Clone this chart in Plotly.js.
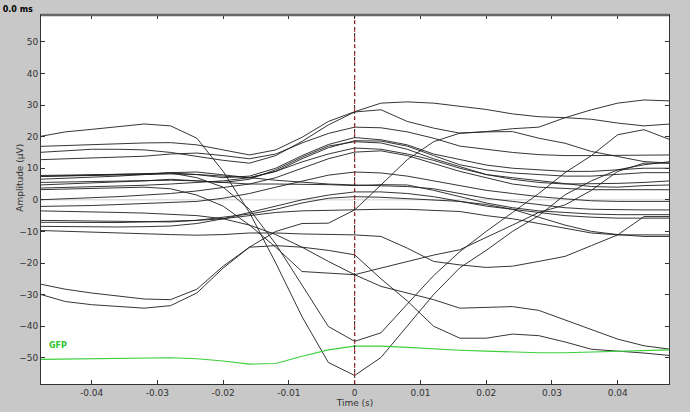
<!DOCTYPE html>
<html><head><meta charset="utf-8">
<script src="https://cdn.plot.ly/plotly-3.0.1.min.js"></script>
<style>html,body{margin:0;padding:0;background:#c8c8c8;}#chart{width:690px;height:412px;}</style>
</head><body><div id="chart"></div>
<script>
// time samples (s)
const times = [-0.048,-0.044,-0.040,-0.036,-0.032,-0.028,-0.024,-0.020,-0.016,-0.012,-0.008,-0.004,0.000,0.004,0.008,0.012,0.016,0.020,0.024,0.028,0.032,0.036,0.040,0.044,0.048];

// channel amplitudes (µV)
const ch01 = [-26.6,-28.3,-29.5,-30.5,-31.4,-31.6,-28.3,-21.0,-15.0,-10.0,-7.5,-7.4,-3.2,4.7,12.7,18.4,21.1,21.6,22.5,23.0,26.0,28.5,30.6,31.6,31.3];
const ch02 = [16.9,17.2,17.5,17.8,18.0,18.1,17.4,15.8,14.2,15.8,19.8,24.8,27.9,30.6,31.0,30.6,29.7,28.6,27.2,26.3,26.0,25.5,24.3,23.4,24.0];
const ch03 = [15.0,15.6,16.0,16.0,15.8,15.0,13.8,12.5,11.6,14.0,18.5,23.7,27.8,28.5,24.8,22.7,21.1,21.5,21.6,19.5,17.9,15.3,13.7,12.1,11.6];
const ch04 = [12.7,13.0,13.2,13.5,13.8,14.5,14.8,14.0,13.0,14.5,18.0,21.0,23.0,22.8,21.5,19.5,17.0,16.0,15.0,14.3,14.0,14.0,14.1,14.2,14.2];
const ch05 = [20.0,21.5,22.3,23.2,24.0,23.4,19.5,9.0,-4.0,-20.0,-37.0,-51.5,-55.6,-49.9,-40.0,-30.0,-21.5,-16.0,-10.0,-5.0,1.6,6.0,9.5,11.1,12.1];
const ch06 = [7.4,7.6,7.8,8.0,8.3,8.5,7.0,4.0,-3.0,-14.0,-27.0,-40.1,-44.8,-42.1,-33.0,-24.0,-16.4,-10.0,-4.0,2.0,8.6,14.0,20.6,22.2,19.0];
const ch07 = [3.2,3.4,3.6,3.8,4.0,3.5,1.5,-2.0,-8.0,-15.0,-22.7,-23.2,-23.7,-21.6,-19.5,-17.5,-15.8,-12.0,-8.0,-4.0,-1.6,3.0,9.0,11.6,11.6];
const ch08 = [-9.7,-10.0,-10.3,-10.5,-10.8,-11.0,-11.2,-11.0,-10.5,-10.5,-10.8,-11.0,-11.1,-11.6,-15.3,-19.5,-20.6,-21.4,-21.0,-19.5,-17.9,-14.5,-11.1,-5.3,-5.3];
const ch09 = [-3.5,-3.6,-3.8,-4.0,-4.2,-4.5,-5.0,-6.0,-8.0,-11.0,-15.0,-19.5,-23.7,-27.4,-29.5,-31.6,-34.3,-34.0,-33.8,-35.0,-38.0,-41.1,-44.1,-46.2,-47.3];
const ch10 = [-29.8,-32.2,-33.2,-33.8,-34.3,-33.5,-29.5,-21.6,-15.0,-14.5,-15.0,-16.0,-17.4,-25.0,-32.0,-40.0,-43.8,-43.8,-42.5,-43.0,-45.0,-47.3,-47.8,-48.5,-49.3];
const ch11 = [7.7,7.8,7.9,8.0,8.2,8.5,8.0,7.0,7.5,10.0,14.0,17.5,19.7,19.0,17.4,14.5,12.7,11.0,10.0,9.5,9.0,9.0,9.5,10.0,10.0];
const ch12 = [6.5,6.8,7.0,7.5,8.0,8.6,8.8,8.0,7.0,9.0,13.0,16.5,18.7,18.6,17.0,14.0,11.1,9.5,8.5,8.0,7.5,7.5,8.0,8.6,8.6];
const ch13 = [4.7,5.0,5.3,5.6,6.0,6.5,6.0,5.5,6.5,9.5,13.5,17.0,18.4,18.0,16.0,13.0,10.5,8.0,6.5,5.5,5.0,5.0,5.2,5.5,6.0];
const ch14 = [3.7,3.9,4.1,4.3,4.6,5.0,5.5,6.0,7.0,9.0,12.0,14.5,16.4,16.0,14.5,12.5,10.0,8.0,7.0,6.0,5.0,4.2,4.0,4.5,4.7];
const ch15 = [0.0,0.3,0.6,1.0,1.5,2.0,2.8,3.8,5.0,7.0,10.0,13.0,15.1,15.5,14.0,11.5,9.0,7.0,5.0,4.0,3.5,3.2,3.2,3.2,3.2];
const ch16 = [-2.1,-2.0,-1.8,-1.5,-1.2,-1.0,-0.5,0.5,2.0,4.0,6.0,7.8,8.8,8.5,7.5,6.0,4.5,3.0,2.0,1.0,0.3,-0.3,-0.5,-0.5,-0.5];
const ch17 = [7.4,7.5,7.6,7.8,8.0,8.2,8.0,7.5,7.0,6.2,5.5,5.0,4.7,4.5,4.2,3.5,2.0,0.5,-0.5,-1.5,-2.5,-3.0,-3.2,-3.2,-3.2];
const ch18 = [5.5,5.6,5.7,5.9,6.0,6.2,6.0,5.5,5.0,5.0,5.0,4.8,4.5,4.8,4.7,3.0,1.0,-1.0,-2.5,-3.5,-4.0,-4.5,-4.7,-4.7,-4.7];
const ch19 = [-7.1,-7.2,-7.3,-7.2,-7.0,-6.8,-6.5,-6.0,-5.0,-4.0,-3.5,-3.3,-3.2,-3.0,-3.0,-3.3,-3.7,-5.0,-6.0,-7.5,-9.0,-10.5,-11.1,-11.1,-11.1];
const ch20 = [-6.5,-6.6,-6.7,-6.8,-6.9,-7.0,-6.5,-5.5,-4.5,-3.0,-1.0,0.5,1.0,0.8,0.3,0.0,-0.5,-1.5,-3.0,-5.5,-8.0,-10.0,-11.0,-11.6,-11.6];
const ch21 = [-8.4,-8.5,-8.6,-8.6,-8.5,-8.3,-7.5,-6.0,-4.0,-2.0,0.0,1.5,2.5,2.5,2.0,1.0,-0.5,-2.0,-3.0,-4.0,-5.0,-5.5,-5.8,-5.8,-5.8];
const channels = [ch01,ch02,ch03,ch04,ch05,ch06,ch07,ch08,ch09,ch10,ch11,ch12,ch13,ch14,ch15,ch16,ch17,ch18,ch19,ch20,ch21];

// global field power (drawn with offset as in the reference)
const gfp = [-50.5,-50.4,-50.3,-50.1,-50.0,-50.0,-50.3,-51.0,-52.0,-51.8,-49.5,-47.5,-46.3,-46.3,-46.7,-47.2,-47.6,-47.9,-48.2,-48.4,-48.4,-48.2,-47.9,-47.7,-47.5];

const xTicks = [-0.04,-0.03,-0.02,-0.01,0,0.01,0.02,0.03,0.04];
const xTickText = ['-0.04','-0.03','-0.02','-0.01','0','0.01','0.02','0.03','0.04'];
const yTicks = [-50,-40,-30,-20,-10,0,10,20,30,40,50];

const traces = channels.map(v => ({
  x: times, y: v, type: 'scatter', mode: 'lines',
  line: {color: '#1e1e1e', width: 0.9}, hoverinfo: 'skip', showlegend: false
}));
traces.push({x: times, y: gfp, type: 'scatter', mode: 'lines',
  line: {color: '#3ccf3c', width: 1.1}, hoverinfo: 'skip', showlegend: false});

const font = {family: 'DejaVu Sans, sans-serif', size: 9, color: '#333'};
const layout = {
  width: 690, height: 412,
  margin: {l: 41, r: 21, t: 15, b: 28},
  paper_bgcolor: '#c8c8c8', plot_bgcolor: '#ffffff',
  font: font,
  title: {text: '<b>0.0 ms</b>', x: 0.004, xanchor: 'left', y: 0.985, yanchor: 'top',
          font: {family: 'DejaVu Sans, sans-serif', size: 8, color: '#000'}},
  xaxis: {range: [-0.0477, 0.0478], tickvals: xTicks, ticktext: xTickText,
          ticks: 'inside', ticklen: 4, tickcolor: '#333', showline: true, linecolor: '#333',
          linewidth: 1, mirror: 'ticks', showgrid: false, zeroline: false,
          tickfont: font, title: {text: 'Time (s)', font: font, standoff: 2}},
  yaxis: {range: [-58.3, 58.5], tickvals: yTicks,
          ticks: 'inside', ticklen: 4, tickcolor: '#333', showline: true, linecolor: '#333',
          linewidth: 1, mirror: 'ticks', showgrid: false, zeroline: false,
          tickfont: font},
  shapes: [
    {type: 'line', xref: 'paper', x0: 0, x1: 1, yref: 'y', y0: 0, y1: 0,
     line: {color: '#d0d0d0', width: 1}, layer: 'below'},
    {type: 'line', xref: 'x', x0: 0, x1: 0, yref: 'paper', y0: 0, y1: 1,
     line: {color: '#1e1e1e', width: 1, dash: '3px,3px'}},
    {type: 'line', xref: 'x', x0: 0, x1: 0, yref: 'paper', y0: 0, y1: 1,
     line: {color: '#b01c1c', width: 1, dash: '4px,4px'}},
    {type: 'line', xref: 'paper', x0: 0, x1: 1, yref: 'paper', y0: 1, y1: 1,
     line: {color: '#666', width: 2.5}}
  ],
  annotations: [
    {text: 'Amplitude (μV)', xref: 'paper', x: -0.0334, xanchor: 'center',
     yref: 'y', y: 7, yanchor: 'middle', textangle: -90, showarrow: false, font: font},
    {text: '<b>GFP</b>', xref: 'paper', x: 0.01, xanchor: 'left', yref: 'y', y: -46.2,
     yanchor: 'middle', showarrow: false,
     font: {family: 'DejaVu Sans, sans-serif', size: 8, color: '#2ec42e'}}
  ]
};
Plotly.newPlot('chart', traces, layout, {displayModeBar: false, staticPlot: true});
</script></body></html>
